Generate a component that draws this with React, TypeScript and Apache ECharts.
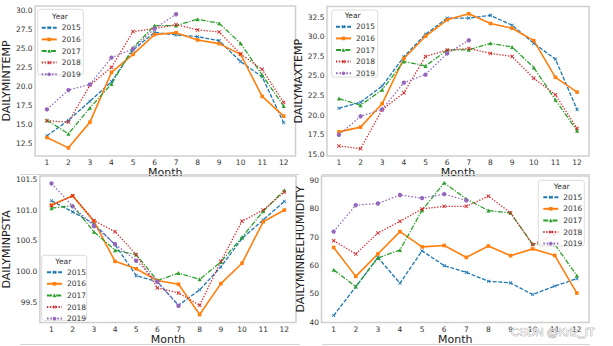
import React, { useEffect, useRef } from "react";
import * as echarts from "echarts";

const MONTHS = [1, 2, 3, 4, 5, 6, 7, 8, 9, 10, 11, 12];
const YEARS = ["2015", "2016", "2017", "2018", "2019"];

// DAILYMINTEMP
const minTemp2015 = [13.55, 15.6, 18.1, 20.66, 24.8, 27.15, 26.8, 26.58, 26.05, 23.29, 21.3, 15.26];
const minTemp2016 = [13.33, 11.97, 15.35, 21.89, 24.25, 26.84, 27.1, 26.14, 25.66, 24.25, 18.73, 16.14];
const minTemp2017 = [15.6, 13.82, 17.24, 20.35, 25.13, 28.03, 28.03, 28.86, 28.33, 25.7, 21.54, 17.46];
const minTemp2018 = [15.53, 15.35, 20.22, 22.54, 27.24, 27.63, 28.16, 27.46, 27.19, 24.3, 22.28, 17.94];
const minTemp2019 = [17.02, 19.56, 20.3, 23.82, 24.96, 27.63, 29.52];

// DAILYMAXTEMP
const maxTemp2015 = [20.86, 21.64, 23.71, 27.46, 30.34, 32.41, 32.41, 32.76, 31.5, 29.18, 27.16, 20.69];
const maxTemp2016 = [17.84, 18.45, 21.47, 27.24, 30.09, 32.2, 32.97, 31.72, 31.12, 29.53, 24.83, 22.93];
const maxTemp2017 = [22.11, 21.25, 23.23, 26.85, 26.29, 28.32, 28.36, 29.18, 28.71, 26.08, 21.94, 17.97];
const maxTemp2018 = [16.03, 15.69, 20.69, 22.84, 27.5, 28.32, 28.53, 27.89, 27.5, 24.7, 22.59, 18.28];
const maxTemp2019 = [17.46, 19.83, 20.73, 24.14, 25.17, 27.89, 29.57];

// DAILYMINPSTA
const psta2015 = [101.15, 100.97, 100.78, 100.44, 99.94, 99.84, 99.46, 99.71, 100.08, 100.54, 100.84, 101.14];
const psta2016 = [101.08, 101.23, 100.82, 100.17, 100.05, 99.86, 99.8, 99.31, 99.81, 100.14, 100.81, 101.0];
const psta2017 = [101.03, 101.07, 100.65, 100.35, 100.28, 99.86, 99.98, 99.88, 100.16, 100.56, 100.98, 101.32];
const psta2018 = [101.07, 101.23, 100.83, 100.65, 100.28, 99.74, 99.66, 99.46, 100.17, 100.82, 101.0, 101.29];
const psta2019 = [101.43, 101.06, 100.74, 100.45, 100.18, 99.84, 99.45];

// DAILYMINRELHUMIDITY
const hum2015 = [42.4, 52.5, 62.9, 53.8, 65.2, 60.0, 57.6, 54.5, 53.9, 49.8, 52.8, 55.4];
const hum2016 = [66.4, 56.2, 64.1, 72.0, 66.6, 67.1, 62.9, 66.9, 63.5, 65.9, 63.6, 50.3];
const hum2017 = [58.5, 52.6, 62.7, 65.5, 79.5, 89.2, 83.5, 79.4, 78.6, 67.6, 67.5, 56.5];
const hum2018 = [68.8, 64.1, 71.5, 75.6, 80.0, 80.9, 80.9, 84.5, 78.6, 67.4, 71.0, 72.5];
const hum2019 = [72.0, 81.3, 81.9, 84.9, 83.8, 85.2, 83.0];

const minTempTicks = [12.5, 15.0, 17.5, 20.0, 22.5, 25.0, 27.5, 30.0];
const maxTempTicks = [15.0, 17.5, 20.0, 22.5, 25.0, 27.5, 30.0, 32.5];
const pstaTicks = [99.5, 100.0, 100.5, 101.0, 101.5];
const humTicks = [40, 50, 60, 70, 80, 90];

const FONT = "DejaVu Sans";

const XPATH = "path://M0,1.5L1.5,0L5,3.5L8.5,0L10,1.5L6.5,5L10,8.5L8.5,10L5,6.5L1.5,10L0,8.5L3.5,5Z";

const YEAR_STYLE: any = {
  "2015": { color: "#1f77b4", type: [4, 1.6], width: 1.3, symbol: XPATH, size: 3.6 },
  "2016": { color: "#ff7f0e", type: "solid", width: 1.6, symbol: "rect", size: 3.6 },
  "2017": { color: "#2ca02c", type: [5, 1.5, 1.2, 1.5], width: 1.3, symbol: "triangle", size: 4 },
  "2018": { color: "#d62728", type: [1.3, 1.6], width: 1.3, symbol: XPATH, size: 4 },
  "2019": { color: "#9467bd", type: [1.6, 1.8], width: 1.2, symbol: "circle", size: 4.4 },
};

const PANELS = [
  {
    name: "DAILYMINTEMP", values: [minTemp2015, minTemp2016, minTemp2017, minTemp2018, minTemp2019],
    ticks: minTempTicks, digits: 1, yMin: 10.9, yMax: 30.6,
    grid: { left: 32.5, top: 6, width: 263, height: 150 }, nameGap: 17,
    legend: { x: 40.7, y: 27.3, box: [37.7, 9.3, 45.6, 65.7], title: [60, 16] },
  },
  {
    name: "DAILYMAXTEMP", values: [maxTemp2015, maxTemp2016, maxTemp2017, maxTemp2018, maxTemp2019],
    ticks: maxTempTicks, digits: 1, yMin: 14.75, yMax: 33.9,
    grid: { left: 327, top: 6.5, width: 262, height: 149.5 }, nameGap: 18,
    legend: { x: 335, y: 26.3, box: [331.7, 10, 46, 67], title: [352.7, 15.7] },
  },
  {
    name: "DAILYMINPSTA", values: [psta2015, psta2016, psta2017, psta2018, psta2019],
    ticks: pstaTicks, digits: 1, yMin: 99.18, yMax: 101.55,
    grid: { left: 37, top: 176, width: 259, height: 149 }, nameGap: 21,
    legend: { x: 46, y: 271.7, box: [41.7, 255.3, 45, 65], title: [63.3, 261.3] },
  },
  {
    name: "DAILYMINRELHUMIDITY", values: [hum2015, hum2016, hum2017, hum2018, hum2019],
    ticks: humTicks, digits: 0, yMin: 39.9, yMax: 91.6,
    grid: { left: 321.5, top: 176, width: 267.5, height: 148 }, nameGap: 13,
    legend: { x: 542.3, y: 196.7, box: [538.3, 180.3, 46, 65.7], title: [561.7, 186] },
  },
];

function buildOption() {
  const grids: any[] = [];
  const xAxes: any[] = [];
  const yAxes: any[] = [];
  const series: any[] = [];
  const legends: any[] = [];
  const graphics: any[] = [];

  PANELS.forEach((p, gi) => {
    grids.push({
      ...p.grid,
      show: true,
      borderColor: "#cfcfcf",
      borderWidth: 1.5,
      backgroundColor: "transparent",
    });
    xAxes.push({
      type: "value",
      gridIndex: gi,
      min: 0.45,
      max: 12.55,
      axisLine: { show: false },
      axisTick: { show: false },
      splitLine: { show: false },
      axisLabel: {
        customValues: MONTHS,
        fontSize: 7.5,
        fontFamily: FONT,
        color: "#333",
        margin: 2.5,
      },
      name: "Month",
      nameLocation: "middle",
      nameGap: 9,
      nameTextStyle: { fontSize: 11, fontFamily: FONT, color: "#222" },
    });
    yAxes.push({
      type: "value",
      gridIndex: gi,
      min: p.yMin,
      max: p.yMax,
      axisLine: { show: false },
      axisTick: { show: false },
      splitLine: { show: false },
      axisLabel: {
        customValues: p.ticks,
        formatter: (v: number) => v.toFixed(p.digits),
        fontSize: 7.5,
        fontFamily: FONT,
        color: "#333",
        margin: 2.5,
      },
      name: p.name,
      nameLocation: "middle",
      nameGap: p.nameGap,
      nameTextStyle: { fontSize: 11, fontFamily: FONT, color: "#222" },
    });
    YEARS.forEach((yr, si) => {
      const st = YEAR_STYLE[yr];
      const vals = p.values[si];
      series.push({
        type: "line",
        name: yr,
        xAxisIndex: gi,
        yAxisIndex: gi,
        data: vals.map((v: number, i: number) => [MONTHS[i], v]),
        symbol: st.symbol,
        symbolSize: st.size,
        showSymbol: true,
        itemStyle: { color: st.color },
        lineStyle: { color: st.color, width: st.width, type: st.type },
        z: 2,
      });
    });
    const lg = p.legend;
    graphics.push({
      type: "rect",
      z: 100,
      shape: { x: lg.box[0], y: lg.box[1], width: lg.box[2], height: lg.box[3], r: 2.5 },
      style: { fill: "rgba(255,255,255,0.85)", stroke: "#dddddd", lineWidth: 1 },
    });
    graphics.push({
      type: "text",
      z: 101,
      x: lg.title[0],
      y: lg.title[1],
      style: {
        text: "Year",
        fontSize: 7.5,
        fontFamily: FONT,
        fill: "#333",
        align: "center",
        verticalAlign: "middle",
      },
    });
    legends.push({
      data: YEARS,
      orient: "vertical",
      left: lg.x,
      top: lg.y - 3.5,
      padding: 0,
      itemWidth: 15,
      itemHeight: 4.5,
      itemGap: 3.6,
      z: 110,
      textStyle: { fontSize: 7.5, fontFamily: FONT, color: "#333", lineHeight: 7 },
      selectedMode: false,
    });
  });

  // thin separators between image panels
  [
    [20, 174.5, 300, 174.5],
    [322, 174.5, 590, 174.5],
    [20, 344.5, 300, 344.5],
    [322, 344.5, 590, 344.5],
  ].forEach((s) => {
    graphics.push({
      type: "line",
      z: 1,
      shape: { x1: s[0], y1: s[1], x2: s[2], y2: s[3] },
      style: { stroke: "#d6d6d6", lineWidth: 1 },
    });
  });

  graphics.push({
    type: "text",
    z: 120,
    x: 511,
    y: 332,
    style: {
      text: "CSDN @Kriz_IT",
      fontSize: 11.5,
      fontFamily: "Liberation Sans",
      fill: "rgba(255,255,255,0.9)",
      stroke: "#8a8a8a",
      lineWidth: 0.6,
      align: "left",
      verticalAlign: "middle",
    },
  });

  return {
    animation: false,
    backgroundColor: "#ffffff",
    grid: grids,
    xAxis: xAxes,
    yAxis: yAxes,
    legend: legends,
    series,
    graphic: { elements: graphics },
  };
}

export default function App() {
  const ref = useRef<HTMLDivElement>(null);
  useEffect(() => {
    if (!ref.current) return;
    const chart = echarts.init(ref.current, undefined, { renderer: "svg" });
    chart.setOption(buildOption() as any);
    return () => chart.dispose();
  }, []);
  return (
    <div
      ref={ref}
      style={{ position: "fixed", left: 0, top: 0, width: 613, height: 346, background: "#fff" }}
    />
  );
}
